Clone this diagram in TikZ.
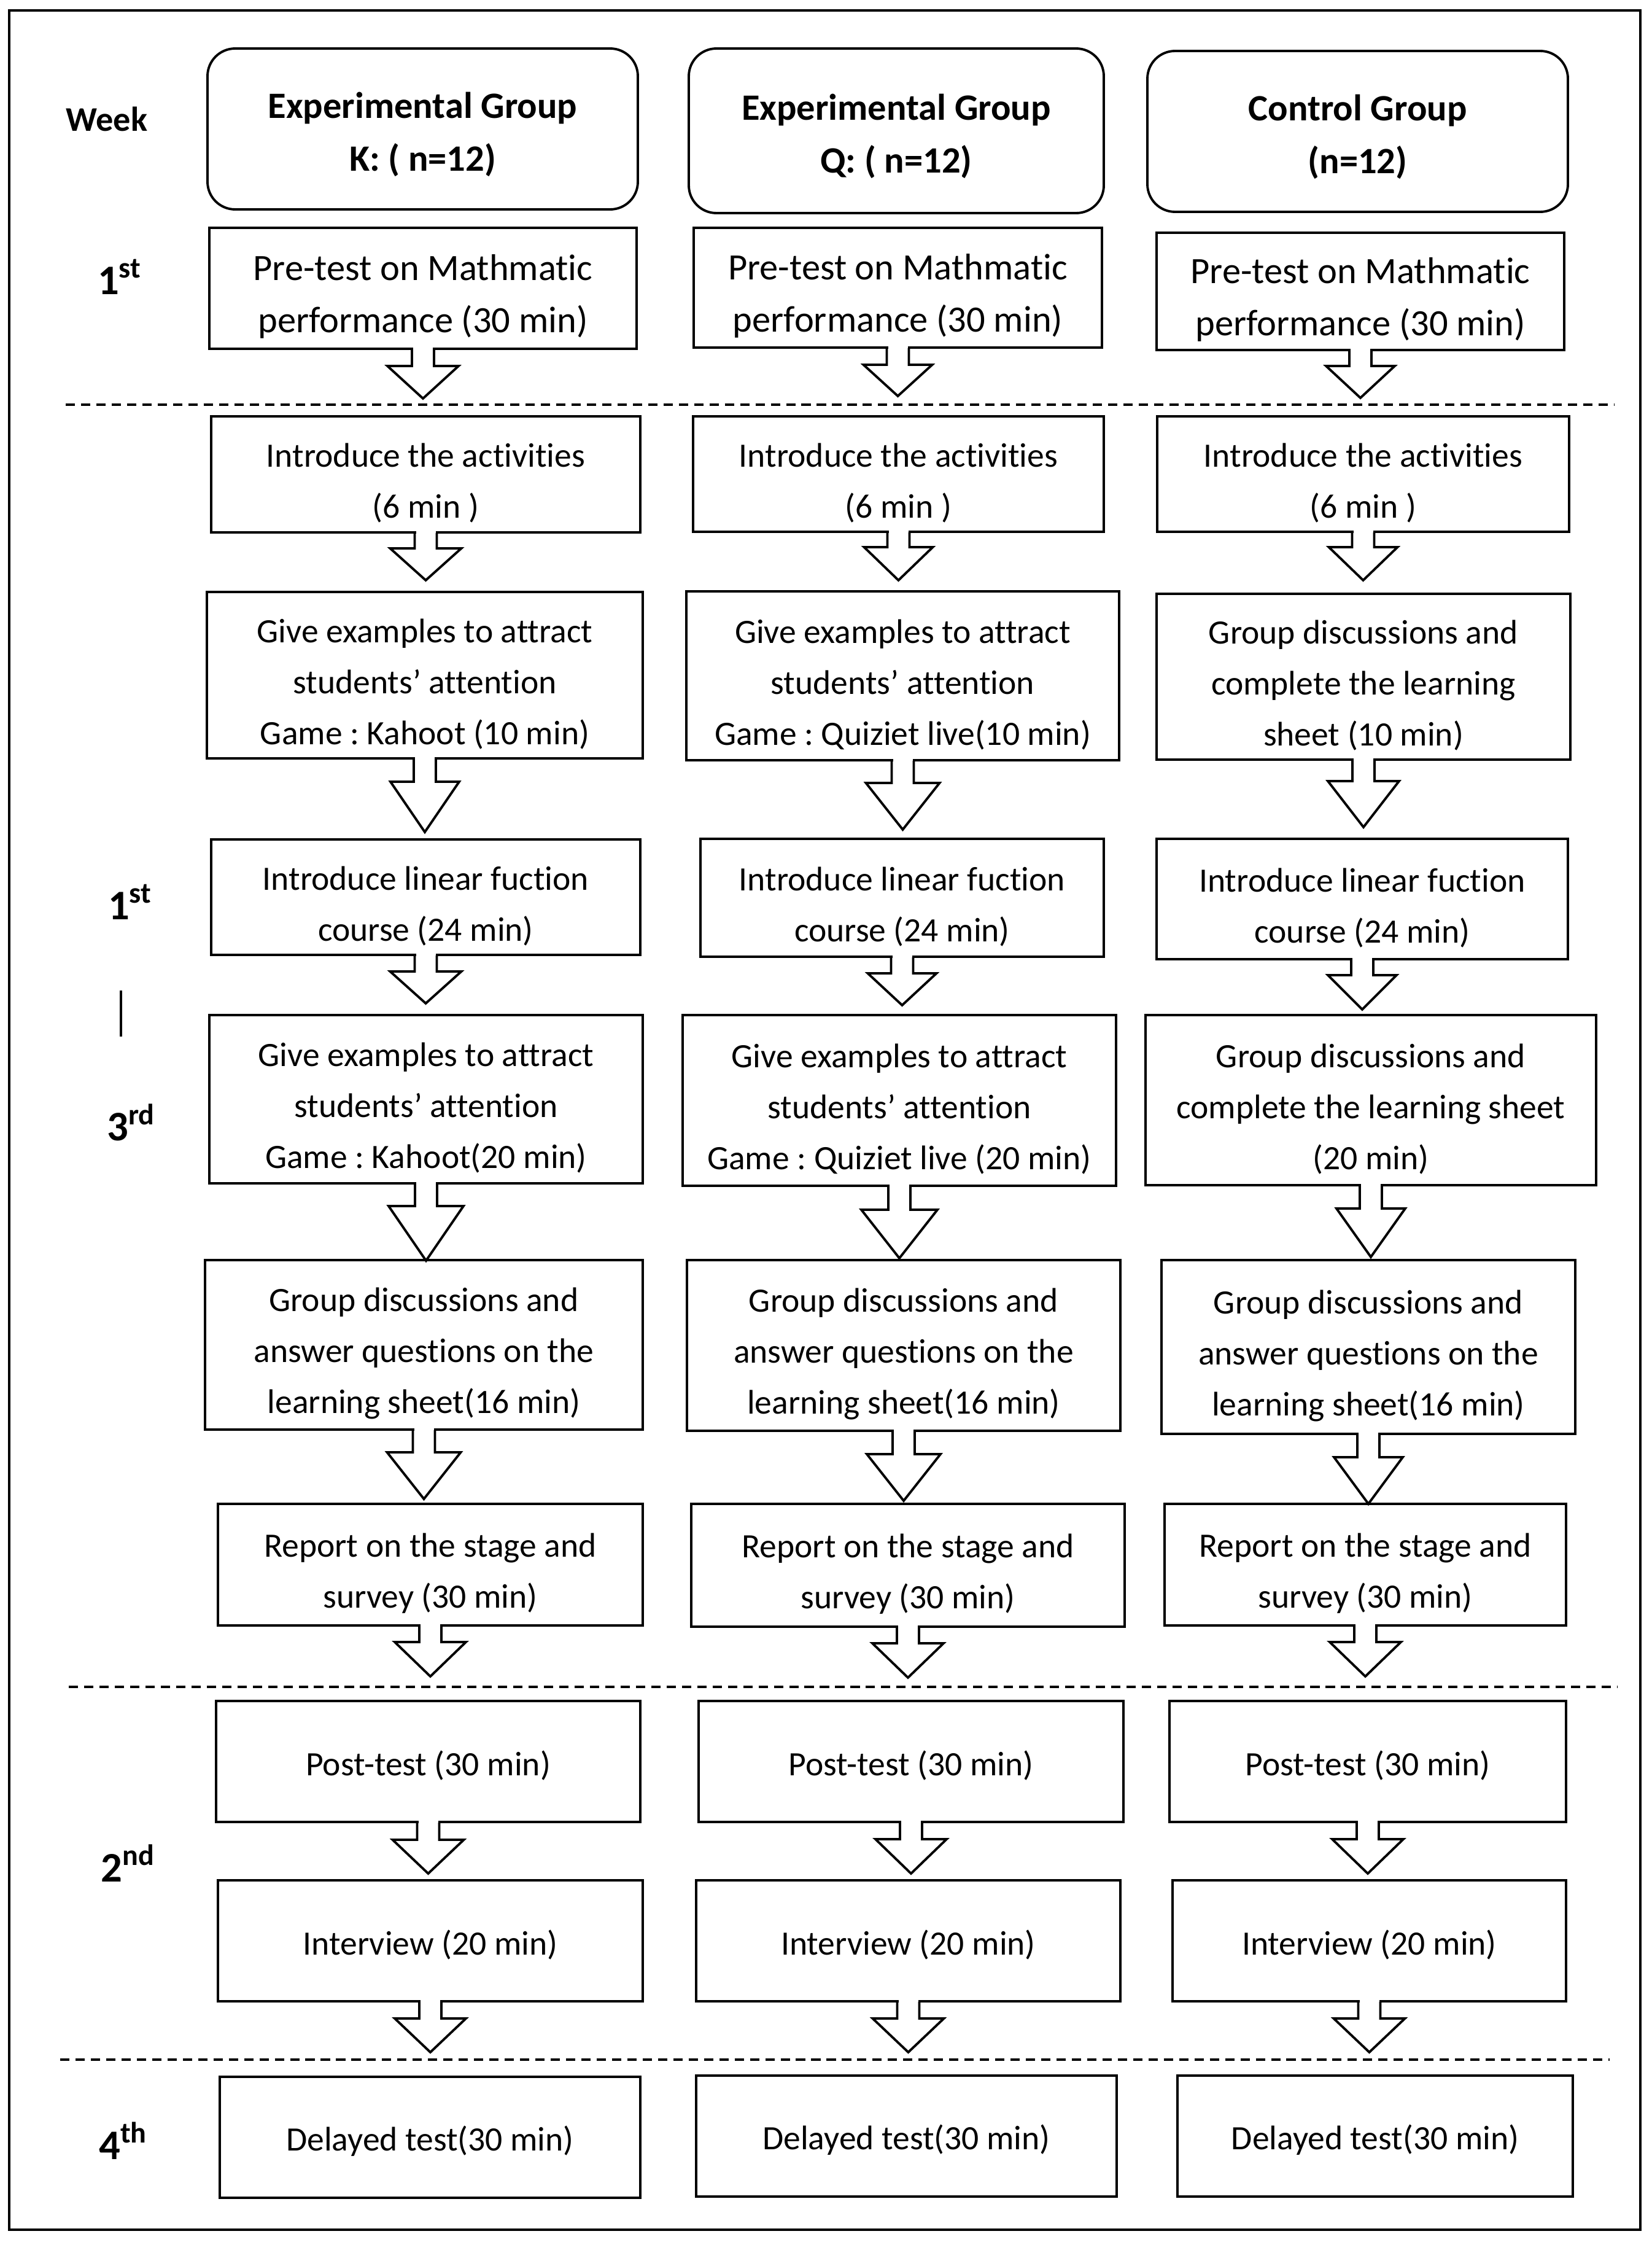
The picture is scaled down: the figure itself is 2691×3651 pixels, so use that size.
\documentclass[tikz,border=0pt]{standalone}
\usepackage{fontspec}
\setmainfont{Carlito}[Ligatures=NoCommon]
\frenchspacing
\usetikzlibrary{calc}
\def\fh{0pt}
\newcommand\bx[7][box]{\node[#1, minimum width={(#5-#3)*0.01cm}, minimum height={(#6-#4)*0.01cm}] (#2) at ({(#3+#5)/2},{(#4+#6)/2}) {\rule{0pt}{\fh}#7};}
% #1 source node, #2 shaft length, #3 head length, #4 head half width
\newcommand\blockarr[4]{%
  \fill[white] ($(#1.south)+(-16,-4)$) rectangle ($(#1.south)+(16,#2)$);
  \draw[arrline] ($(#1.south)+(-18,-1)$) -- ++(0,#2+1) -- ++(-#4+18,0) -- ++(#4,#3) -- ++(#4,-#3) -- ++(-#4+18,0) -- ++(0,-#2-1);
}
\begin{document}
\begin{tikzpicture}[x=0.01cm,y=-0.01cm,
  box/.style={draw, line width=1.1pt, rectangle, inner sep=0pt, align=center,
    font=\fontsize{15.8}{23.6}\selectfont, /utils/exec={\def\fh{19pt}}},
  one/.style={box, /utils/exec={\def\fh{15pt}}},
  big/.style={box, font=\fontsize{17.2}{24}\selectfont, /utils/exec={\def\fh{19.6pt}}},
  hdr/.style={box, rounded corners=0.45cm, font=\bfseries\fontsize{17.2}{24.5}\selectfont, /utils/exec={\def\fh{17pt}}},
  arrline/.style={line width=1.1pt, line join=miter},
  wk/.style={inner sep=0pt, font=\bfseries\fontsize{19.5}{24}\selectfont},
  wkw/.style={inner sep=0pt, font=\bfseries\fontsize{16}{18}\selectfont},
  sep/.style={line width=1pt, dash pattern=on 4.3pt off 2.8pt}]
\fill[white] (0,0) rectangle (2691,3651);
\useasboundingbox (0,0) rectangle (2691,3651);
\draw[line width=1.3pt] (15,17) rectangle (2672,3631);

% week labels
\node[wkw] (week) at (174,194) {Week};
\node[wk] (w1) at (195,451) {1\textsuperscript{st}};
\node[wk] (w2) at (212,1469) {1\textsuperscript{st}};
\draw[line width=0.9pt] (197,1613) coordinate (bara) -- (197,1688) coordinate (barb);
\node[wk] (w3) at (214,1828) {3\textsuperscript{rd}};
\node[wk] (w4) at (201,3486) {4\textsuperscript{th}};
\node[wk] (w5) at (209,3034) {2\textsuperscript{nd}};

% dashed separators
\draw[sep] (107,659) coordinate (s1a) -- (2630,659) coordinate (s1b);
\draw[sep] (112,2747) coordinate (s2a) -- (2635,2747) coordinate (s2b);
\draw[sep] (98,3354) coordinate (s3a) -- (2622,3354) coordinate (s3b);

% headers
\bx[hdr]{h1}{338}{79}{1039}{341}{Experimental Group\\K: ( n=12)}
\bx[hdr]{h2}{1122}{79}{1798}{347}{Experimental Group\\Q: ( n=12)}
\bx[hdr]{h3}{1869}{83}{2554}{345}{Control Group\\(n=12)}

% row: pre-test
\bx[big]{p1}{341}{371}{1037}{568}{Pre-test on Mathmatic\\performance (30 min)}
\bx[big]{p2}{1130}{371}{1795}{566}{Pre-test on Mathmatic\\performance (30 min)}
\bx[big]{p3}{1884}{379}{2548}{570}{Pre-test on Mathmatic\\performance (30 min)}

% row: introduce activities
\bx{a1}{344}{678}{1043}{867}{Introduce the activities\\(6 min )}
\bx{a2}{1129}{678}{1798}{866}{Introduce the activities\\(6 min )}
\bx{a3}{1885}{678}{2556}{866}{Introduce the activities\\(6 min )}

% row: give examples 10 min
\bx{g1}{337}{964}{1047}{1235}{Give examples to attract\\students’ attention\\Game : Kahoot (10 min)}
\bx{g2}{1118}{963}{1823}{1238}{Give examples to attract\\students’ attention\\Game : Quiziet live(10 min)}
\bx{g3}{1884}{967}{2558}{1237}{Group discussions and\\complete the learning\\sheet (10 min)}

% row: linear function
\bx{l1}{344}{1367}{1043}{1555}{Introduce linear fuction\\course (24 min)}
\bx{l2}{1141}{1366}{1798}{1558}{Introduce linear fuction\\course (24 min)}
\bx{l3}{1884}{1366}{2554}{1562}{Introduce linear fuction\\course (24 min)}

% row: give examples 20 min
\bx{e1}{341}{1653}{1047}{1927}{Give examples to attract\\students’ attention\\Game : Kahoot(20 min)}
\bx{e2}{1112}{1653}{1818}{1931}{Give examples to attract\\students’ attention\\Game : Quiziet live (20 min)}
\bx{e3}{1866}{1653}{2600}{1930}{Group discussions and\\complete the learning sheet\\(20 min)}

% row: group discussions
\bx{d1}{334}{2052}{1047}{2328}{Group discussions and\\answer questions on the\\learning sheet(16 min)}
\bx{d2}{1119}{2052}{1825}{2330}{Group discussions and\\answer questions on the\\learning sheet(16 min)}
\bx{d3}{1892}{2052}{2566}{2335}{Group discussions and\\answer questions on the\\learning sheet(16 min)}

% row: report
\bx{r1}{355}{2449}{1047}{2647}{Report on the stage and\\survey (30 min)}
\bx{r2}{1126}{2449}{1832}{2649}{Report on the stage and\\survey (30 min)}
\bx{r3}{1897}{2449}{2551}{2647}{Report on the stage and\\survey (30 min)}

% row: post-test
\bx[one]{t1}{352}{2770}{1043}{2967}{Post-test (30 min)}
\bx[one]{t2}{1138}{2770}{1830}{2967}{Post-test (30 min)}
\bx[one]{t3}{1905}{2770}{2551}{2967}{Post-test (30 min)}

% row: interview
\bx[one]{i1}{355}{3062}{1047}{3259}{Interview (20 min)}
\bx[one]{i2}{1134}{3062}{1825}{3259}{Interview (20 min)}
\bx[one]{i3}{1910}{3062}{2551}{3259}{Interview (20 min)}

% row: delayed
\bx[one]{y1}{358}{3382}{1043}{3579}{Delayed test(30 min)}
\bx[one]{y2}{1134}{3380}{1819}{3577}{Delayed test(30 min)}
\bx[one]{y3}{1918}{3380}{2562}{3577}{Delayed test(30 min)}

% arrows
\blockarr{p1}{26}{53}{58}
\blockarr{p2}{26}{51}{56}
\blockarr{p3}{24}{52}{56}
\blockarr{a1}{24}{52}{58}
\blockarr{a2}{23}{54}{56}
\blockarr{a3}{23}{54}{56}
\blockarr{g1}{36}{82}{56}
\blockarr{g2}{35}{76}{60}
\blockarr{g3}{33}{75}{58}
\blockarr{l1}{25}{52}{58}
\blockarr{l2}{25}{52}{56}
\blockarr{l3}{24}{56}{56}
\blockarr{e1}{35}{89}{61}
\blockarr{e2}{37}{79}{62}
\blockarr{e3}{36}{79}{56}
\blockarr{d1}{35}{76}{60}
\blockarr{d2}{36}{76}{60}
\blockarr{d3}{36}{76}{56}
\blockarr{r1}{25}{56}{58}
\blockarr{r2}{25}{56}{58}
\blockarr{r3}{25}{56}{58}
\blockarr{t1}{27}{55}{58}
\blockarr{t2}{26}{56}{58}
\blockarr{t3}{26}{56}{58}
\blockarr{i1}{26}{55}{58}
\blockarr{i2}{26}{55}{58}
\blockarr{i3}{26}{55}{58}
\end{tikzpicture}
\end{document}
